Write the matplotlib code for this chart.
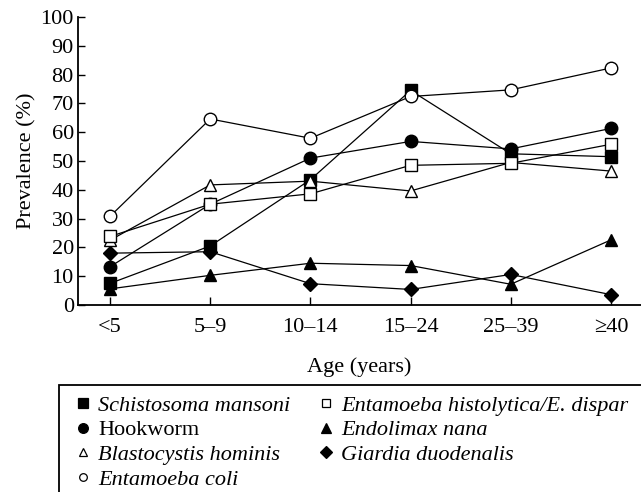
import matplotlib
matplotlib.use('Agg')
import matplotlib.pyplot as plt
from matplotlib.patches import Rectangle

# age groups and prevalence (%) per parasite
ages = ['<5', '5\u20139', '10\u201314', '15\u201324', '25\u201339', '\u226540']
schisto = [7.5, 20.5, 43.5, 74.5, 52.5, 51.5]
hookworm = [13.3, 35.0, 51.0, 56.8, 54.2, 61.3]
blasto = [22.5, 41.7, 43.0, 39.6, 49.5, 46.5]
e_coli = [30.8, 64.6, 57.9, 72.4, 74.7, 82.3]
e_hist = [23.8, 35.0, 38.6, 48.5, 49.2, 55.8]
endolimax = [5.6, 10.3, 14.5, 13.7, 7.2, 22.6]
giardia = [18.0, 18.5, 7.4, 5.4, 10.6, 3.6]

plt.rcParams['font.family'] = ['Liberation Serif', 'DejaVu Serif']

fig = plt.figure(figsize=(6.41, 4.92), dpi=100)
ax = fig.add_axes([78 / 641, 187 / 492, 1 - 78 / 641, (305 - 17) / 492])

x = list(range(len(ages)))
# values, marker, face colour, legend name, italic, plot size, legend size
series = [
    (schisto, 's', 'black', 'Schistosoma mansoni', True, 8.5, 6.8),
    (hookworm, 'o', 'black', 'Hookworm', False, 9, 7.0),
    (blasto, '^', 'white', 'Blastocystis hominis', True, 9, 5.8),
    (e_coli, 'o', 'white', 'Entamoeba coli', True, 9, 5.5),
    (e_hist, 's', 'white', 'Entamoeba histolytica/E. dispar', True, 8.5, 5.8),
    (endolimax, '^', 'black', 'Endolimax nana', True, 9, 7.0),
    (giardia, 'D', 'black', 'Giardia duodenalis', True, 7.5, 6.0),
]

handles = []
for vals, m, fc, name, ital, ms, lms in series:
    ax.plot(x, vals, color='black', lw=0.9, marker=m, ms=ms, mfc=fc,
            mec='black', mew=1.0, zorder=3)
    h, = ax.plot([], [], ls='none', marker=m, ms=lms, mfc=fc,
                 mec='black', mew=0.9, label=name)
    handles.append((h, ital))

ax.set_xlim(-0.32, 5.3)
ax.set_ylim(0, 100)
ax.set_xticks(x)
ax.set_xticklabels(ages)
ax.set_yticks(range(0, 101, 10))
ax.spines['top'].set_visible(False)
ax.spines['right'].set_visible(False)
ax.spines['left'].set_linewidth(1.3)
ax.spines['bottom'].set_linewidth(1.3)
ax.tick_params(axis='both', direction='in', labelsize=16, width=1.0,
               colors='black')
ax.tick_params(axis='y', length=5, pad=3)
ax.tick_params(axis='x', length=6, pad=9)
ax.set_ylabel('Prevalence (%)', fontsize=16, labelpad=3)
ax.set_xlabel('Age (years)', fontsize=16, labelpad=15)

# legend box (runs off the bottom and right edges)
fig.patches.append(Rectangle((59 / 641, -0.2), 1.0, 0.2 + (492 - 385) / 492,
                             transform=fig.transFigure, fill=False,
                             ec='black', lw=1.3, clip_on=False))
leg = fig.legend(handles=[h for h, _ in handles], loc='upper left',
                 bbox_to_anchor=(76 / 641, 1 - 395 / 492), ncol=2,
                 frameon=False, fontsize=16, handlelength=0.6,
                 handletextpad=0.4, columnspacing=1.3, labelspacing=0.19,
                 borderaxespad=0, borderpad=0)
for txt, (_, ital) in zip(leg.get_texts(), handles):
    if ital:
        txt.set_fontstyle('italic')

fig.savefig('out.png', dpi=100)
